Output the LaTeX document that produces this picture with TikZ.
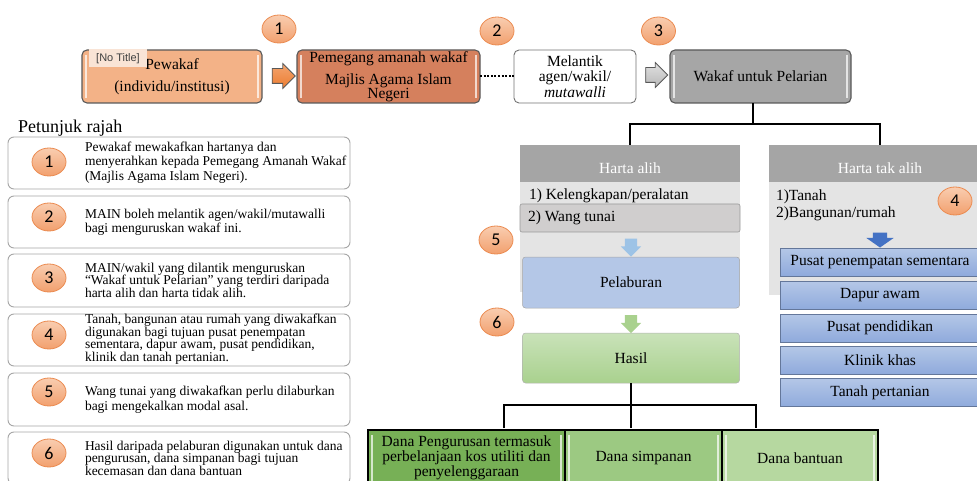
\documentclass[tikz,border=0pt]{standalone}
\usepackage{fontspec}
\setmainfont{Liberation Serif}
\newfontfamily\numfont{Carlito}
\newfontfamily\tagfont{Liberation Sans}
\usetikzlibrary{shapes.geometric,shapes.arrows,calc}
\definecolor{pewfill}{HTML}{F3B287}
\definecolor{pemfill}{HTML}{D5805D}
\definecolor{wakfill}{HTML}{A6A6A6}
\definecolor{hdrgray}{HTML}{A5A5A5}
\definecolor{panelgray}{HTML}{E4E4E4}
\definecolor{wanggray}{HTML}{D0CECE}
\definecolor{pelblue}{HTML}{B4C7E7}
\definecolor{hasiltop}{HTML}{C9E2B9}
\definecolor{hasilbot}{HTML}{A9D18E}
\definecolor{greenA}{HTML}{77B056}
\definecolor{greenB}{HTML}{9CC982}
\definecolor{greenC}{HTML}{B6D8A0}
\definecolor{bluetop}{HTML}{B4C7E7}
\definecolor{bluebot}{HTML}{8FAADC}
\definecolor{arrblue}{HTML}{9DC3E6}
\definecolor{arrgreen}{HTML}{A9D18E}
\definecolor{arrdark}{HTML}{4472C4}
\definecolor{circtop}{HTML}{F9CDB0}
\definecolor{circbot}{HTML}{F2A06E}
\definecolor{circedge}{HTML}{EB8A4F}
\definecolor{arrorange}{HTML}{ED7D31}
\definecolor{tagfill}{HTML}{F9E4D6}
\begin{document}
\begin{tikzpicture}[x=1pt,y=-1pt,
  every node/.style={inner sep=0pt,outer sep=0pt},
  mainfont/.style={font=\fontsize{15.5}{17}\selectfont},
  bevel/.style={path picture={
     \draw[white,opacity=0.7,line width=1.4pt]
       ([xshift=4pt,yshift=-5pt]path picture bounding box.north west) -- ([xshift=4pt,yshift=5pt]path picture bounding box.south west)
       ([xshift=-4pt,yshift=-5pt]path picture bounding box.north east) -- ([xshift=-4pt,yshift=5pt]path picture bounding box.south east);}},
  topbox/.style={draw=black!65,line width=1.1pt,rounded corners=5pt,align=center,mainfont,minimum height=53pt,bevel},
  numc/.style={ellipse,draw=circedge,line width=0.8pt,top color=circtop,bottom color=circbot,minimum width=34pt,minimum height=28pt,font=\numfont\fontsize{18}{18}\selectfont},
  legbox/.style={draw=black!35,line width=0.9pt,rounded corners=6pt,fill=white,minimum width=342pt},
  legtext/.style={anchor=west,align=left},
  header/.style={fill=hdrgray,minimum height=37pt,text=white,mainfont},
  panel/.style={fill=panelgray,anchor=north west},
  bluebox/.style={draw=bluebot!70!black,line width=0.5pt,top color=bluetop,bottom color=bluebot,minimum width=200pt,minimum height=28pt,mainfont},
  greenbox/.style={draw=black,line width=1.2pt,minimum height=56pt,align=center,font=\fontsize{15.5}{15}\selectfont,bevel},
  tree/.style={draw=black,line width=1.3pt},
  blockarrow/.style={single arrow,single arrow head indent=0pt,line width=0.8pt,draw=black!65,inner xsep=0pt}
]
\useasboundingbox (0,0) rectangle (977,481);
\clip (0,0) rectangle (977,481);

% ---------- top row ----------
\node[topbox,fill=pewfill,minimum width=180pt] (pew) at (172,76.5) {Pewakaf\\[5pt](individu/institusi)};
\node[fill=tagfill,minimum width=58pt,minimum height=18pt,font=\tagfont\fontsize{11}{11}\selectfont,text=black!75] (tag) at (118,58.5) {[No Title]};
\node[topbox,fill=pemfill,minimum width=183pt] (pem) at (388.5,76.5) {Pemegang amanah wakaf\\[5pt]Majlis Agama Islam\\[-3pt]Negeri};
\node[topbox,fill=white,draw=black!55,line width=0.9pt,minimum width=122pt,path picture={},font=\fontsize{15.5}{15.5}\selectfont] (mel) at (575,76.5) {Melantik\\agen/wakil/\\\textit{mutawalli}};
\node[topbox,fill=wakfill,minimum width=181pt] (wak) at (760.5,76.5) {Wakaf untuk Pelarian};

\node[blockarrow,top color=arrorange!70,bottom color=arrorange,minimum height=23pt,inner ysep=7pt,single arrow head extend=5pt] (a1) at (280,76) {};
\node[blockarrow,top color=black!12,bottom color=black!28,minimum height=22pt,inner ysep=7pt,single arrow head extend=5pt] (a3) at (653,75) {};
\draw[line width=2pt,dash pattern=on 2pt off 1.6pt] (pem.east) -- (mel.west);

\node[numc] (n1) at (279,29) {1};
\node[numc] (n2) at (497,31) {2};
\node[numc] (n3) at (658.5,31) {3};

% ---------- legend ----------
\node[anchor=west,font=\fontsize{18}{18}\selectfont] (pt) at (18,128) {Petunjuk rajah};
\node[legbox,minimum height=52pt] (l1) at (179,163) {};
\node[legbox,minimum height=52pt] (l2) at (179,222) {};
\node[legbox,minimum height=53pt] (l3) at (179,280.5) {};
\node[legbox,minimum height=52pt] (l4) at (179,340) {};
\node[legbox,minimum height=53pt] (l5) at (179,399.5) {};
\node[legbox,minimum height=52pt] (l6) at (179,458) {};
\node[numc] (m1) at (49,162) {1};
\node[numc] (m2) at (49,217) {2};
\node[numc] (m3) at (49,278) {3};
\node[numc] (m4) at (49,335) {4};
\node[numc] (m5) at (49,392) {5};
\node[numc] (m6) at (49,453) {6};
\node[legtext,font=\fontsize{13.5}{14.5}\selectfont] (t1) at (85,162.5) {Pewakaf mewakafkan hartanya dan\\menyerahkan kepada Pemegang Amanah Wakaf\\(Majlis Agama Islam Negeri).};
\node[legtext,font=\fontsize{13.5}{14}\selectfont] (t2) at (85,222.5) {MAIN boleh melantik agen/wakil/mutawalli\\bagi menguruskan wakaf ini.};
\node[legtext,font=\fontsize{13.5}{12.5}\selectfont] (t3) at (85,280) {MAIN/wakil yang dilantik menguruskan\\“Wakaf untuk Pelarian” yang terdiri daripada\\harta alih dan harta tidak alih.};
\node[legtext,font=\fontsize{13.5}{12.5}\selectfont] (t4) at (85,339) {Tanah, bangunan atau rumah yang diwakafkan\\digunakan bagi tujuan pusat penempatan\\sementara, dapur awam, pusat pendidikan,\\klinik dan tanah pertanian.};
\node[legtext,font=\fontsize{13.5}{15}\selectfont] (t5) at (85,400) {Wang tunai yang diwakafkan perlu dilaburkan\\bagi mengekalkan modal asal.};
\node[legtext,font=\fontsize{13.5}{12.5}\selectfont] (t6) at (85,458) {Hasil daripada pelaburan digunakan untuk dana\\pengurusan, dana simpanan bagi tujuan\\kecemasan dan dana bantuan};

% ---------- harta alih ----------
\node[panel,minimum width=220pt,minimum height=110pt] (pa) at (520,182) {};
\node[header,minimum width=220pt] (hah) at (630,163.5) {\raisebox{-10pt}[0pt][0pt]{Harta alih}};
\node[anchor=west,mainfont] (k1) at (529,196) {1) Kelengkapan/peralatan};
\node[fill=wanggray,draw=black!40,line width=0.6pt,rounded corners=2pt,minimum width=220pt,minimum height=28pt] (wt) at (630,218) {};
\node[anchor=west,mainfont] (k2) at (528,218) {2) Wang tunai};
\node[single arrow,single arrow head indent=0pt,rotate=-90,fill=arrblue,minimum height=18pt,inner ysep=6pt,single arrow head extend=4pt] (da1) at (631,244.5) {};
\node[fill=pelblue,draw=black!35,line width=0.5pt,rounded corners=3pt,minimum width=217pt,minimum height=51pt,mainfont] (pel) at (631,282.5) {Pelaburan};
\node[single arrow,single arrow head indent=0pt,rotate=-90,fill=arrgreen,minimum height=18pt,inner ysep=6pt,single arrow head extend=4pt] (da2) at (631,321) {};
\node[top color=hasiltop,bottom color=hasilbot,draw=black!30,line width=0.5pt,rounded corners=3pt,minimum width=217pt,minimum height=50pt,mainfont] (has) at (631,358) {Hasil};
\node[numc] (n5) at (496,240) {5};
\node[numc] (n6) at (497,322) {6};

% ---------- harta tak alih ----------
\node[panel,minimum width=222pt,minimum height=113pt] (pb) at (769,182) {};
\node[header,minimum width=222pt] (hta) at (880,163.5) {\raisebox{-10pt}[0pt][0pt]{Harta tak alih}};
\node[anchor=west,align=left,font=\fontsize{15.5}{17}\selectfont] (ta) at (776,205) {1)Tanah\\2)Bangunan/rumah};
\node[numc] (n4) at (955,201) {4};
\node[single arrow,single arrow head indent=0pt,single arrow tip angle=110,rotate=-90,fill=arrdark,minimum height=15pt,minimum width=27pt,inner ysep=7pt,single arrow head extend=6.5pt] (da3) at (880,237.5) {};
\node[bluebox] (b1) at (880,262) {Pusat penempatan sementara};
\node[bluebox] (b2) at (880,295.5) {Dapur awam};
\node[bluebox] (b3) at (880,328) {Pusat pendidikan};
\node[bluebox] (b4) at (880,360) {Klinik khas};
\node[bluebox] (b5) at (880,392.5) {Tanah pertanian};

% ---------- tree from Wakaf ----------
\coordinate (wj) at (753,124);
\draw[tree] ([xshift=-7.5pt]wak.south) -- (wj);
\draw[tree] (hah.north) |- (wj) -| (hta.north);

% ---------- bottom funds ----------
\node[greenbox,fill=greenA,minimum width=197pt] (f1) at (466.5,458) {Dana Pengurusan termasuk\\perbelanjaan kos utiliti dan\\penyelenggaraan};
\node[greenbox,fill=greenB,minimum width=157pt] (f2) at (643.5,458) {Dana simpanan};
\node[greenbox,fill=greenC,minimum width=156pt] (f3) at (800,458) {Dana bantuan};

\coordinate (hj) at (631,405);
\coordinate (e1) at (504,428);
\coordinate (e2) at (631,428);
\coordinate (e3) at (756,428);
\draw[tree] (has.south) -- (hj);
\draw[tree] (e1) |- (hj) -| (e3);
\draw[tree] (hj) -- (e2);
\end{tikzpicture}
\end{document}
